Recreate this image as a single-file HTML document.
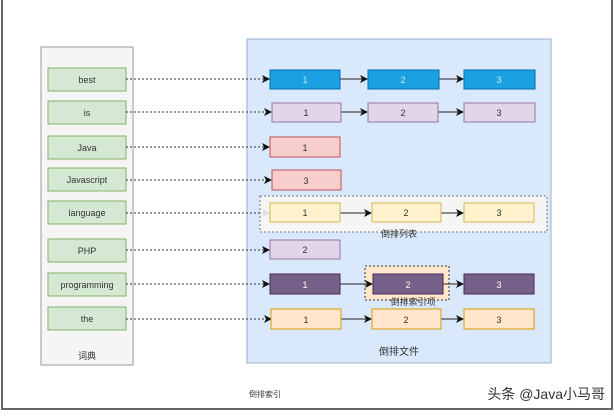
<!DOCTYPE html>
<html><head><meta charset="utf-8"><style>
html,body{margin:0;padding:0;background:#fff;}
svg text{font-family:"Liberation Sans","Noto Sans CJK SC",sans-serif;}
</style></head><body>
<svg width="614" height="413" viewBox="0 0 614 413" xmlns="http://www.w3.org/2000/svg">
<defs>
<marker id="a" markerWidth="8" markerHeight="8" refX="7" refY="4" orient="auto" markerUnits="userSpaceOnUse"><path d="M0,0 L8,4 L0,8 L2,4 z" fill="#111"/></marker>
</defs>
<rect x="2" y="-2" width="610" height="411" fill="#fff" stroke="#666" stroke-width="2"/>
<rect x="41" y="47" width="92" height="318" fill="#f5f5f5" stroke="#999"/>
<text x="87" y="359" font-size="9" text-anchor="middle" fill="#333">词典</text>
<rect x="247" y="39" width="304" height="324" fill="#dae8fc" stroke="#9aaecb"/>
<text x="399" y="355" font-size="10" text-anchor="middle" fill="#333">倒排文件</text>
<g font-size="9" fill="#333" text-anchor="middle">
<g fill="#d5e8d4" stroke="#82b366">
<rect x="48" y="68" width="78" height="23"/><rect x="48" y="101" width="78" height="23"/>
<rect x="48" y="136" width="78" height="23"/><rect x="48" y="168" width="78" height="23"/>
<rect x="48" y="201" width="78" height="23"/><rect x="48" y="239" width="78" height="23"/>
<rect x="48" y="273" width="78" height="23"/><rect x="48" y="307" width="78" height="23"/>
</g>
<text x="87" y="83">best</text><text x="87" y="116">is</text><text x="87" y="151">Java</text>
<text x="87" y="183">Javascript</text><text x="87" y="216">language</text><text x="87" y="254">PHP</text>
<text x="87" y="288">programming</text><text x="87" y="322">the</text>
</g>
<g stroke="#333" stroke-dasharray="2,2" fill="none" marker-end="url(#a)">
<line x1="126" y1="79" x2="269" y2="79"/><line x1="126" y1="112" x2="271" y2="112"/>
<line x1="126" y1="147" x2="269" y2="147"/><line x1="126" y1="180" x2="271" y2="180"/>
<line x1="126" y1="213" x2="269" y2="213"/><line x1="126" y1="250" x2="269" y2="250"/>
<line x1="126" y1="284" x2="269" y2="284"/><line x1="126" y1="319" x2="271" y2="319"/>
</g>
<rect x="260" y="196" width="287" height="36" fill="#f7f7f2" fill-opacity="0.9" stroke="#777" stroke-dasharray="2,2"/>
<text x="399" y="237" font-size="9" text-anchor="middle" fill="#333">倒排列表</text>
<rect x="365" y="266" width="84" height="34" fill="#ffe6cc" stroke="#333" stroke-dasharray="2,2"/>
<text x="413" y="305" font-size="9" text-anchor="middle" fill="#333">倒排索引项</text>
<g stroke="#222" fill="none" marker-end="url(#a)">
<line x1="340" y1="79" x2="367" y2="79"/><line x1="439" y1="79" x2="463" y2="79"/>
<line x1="341" y1="112" x2="367" y2="112"/><line x1="438" y1="112" x2="463" y2="112"/>
<line x1="340" y1="213" x2="371" y2="213"/><line x1="441" y1="213" x2="463" y2="213"/>
<line x1="340" y1="284" x2="372" y2="284"/><line x1="443" y1="284" x2="463" y2="284"/>
<line x1="341" y1="319" x2="371" y2="319"/><line x1="441" y1="319" x2="463" y2="319"/>
</g>
<g font-size="9" text-anchor="middle">
<g fill="#1ba1e2" stroke="#006eaf"><rect x="270" y="70" width="70" height="19"/><rect x="368" y="70" width="71" height="19"/><rect x="464" y="70" width="71" height="19"/></g>
<g fill="#b8f0ff"><text x="305" y="83">1</text><text x="403" y="83">2</text><text x="499" y="83">3</text></g>
<g fill="#e1d5e7" stroke="#9673a6"><rect x="272" y="103" width="69" height="19"/><rect x="368" y="103" width="70" height="19"/><rect x="464" y="103" width="71" height="19"/><rect x="270" y="240" width="70" height="19"/></g>
<g fill="#f8cecc" stroke="#b85450"><rect x="270" y="137" width="70" height="20"/><rect x="272" y="170" width="69" height="20"/></g>
<g fill="#fff2cc" stroke="#d6b656"><rect x="270" y="203" width="70" height="19"/><rect x="372" y="203" width="69" height="19"/><rect x="464" y="203" width="70" height="19"/></g>
<g fill="#76608a" stroke="#432d57"><rect x="270" y="274" width="70" height="20"/><rect x="373" y="274" width="70" height="20"/><rect x="464" y="274" width="70" height="20"/></g>
<g fill="#ffe6cc" stroke="#d79b00"><rect x="271" y="309" width="70" height="20"/><rect x="372" y="309" width="69" height="20"/><rect x="464" y="309" width="70" height="20"/></g>
<g fill="#333">
<text x="306" y="116">1</text><text x="403" y="116">2</text><text x="499" y="116">3</text>
<text x="305" y="151">1</text><text x="306" y="184">3</text>
<text x="305" y="216">1</text><text x="406" y="216">2</text><text x="499" y="216">3</text>
<text x="305" y="253">2</text>
<text x="306" y="323">1</text><text x="406" y="323">2</text><text x="499" y="323">3</text>
</g>
<g fill="#fff"><text x="305" y="288">1</text><text x="408" y="288">2</text><text x="499" y="288">3</text></g>
</g>
<text x="265" y="397" font-size="8" text-anchor="middle" fill="#333">倒排索引</text>
<text x="605" y="399" font-size="14" text-anchor="end" fill="#333">头条 @Java小马哥</text>
</svg>
</body></html>
